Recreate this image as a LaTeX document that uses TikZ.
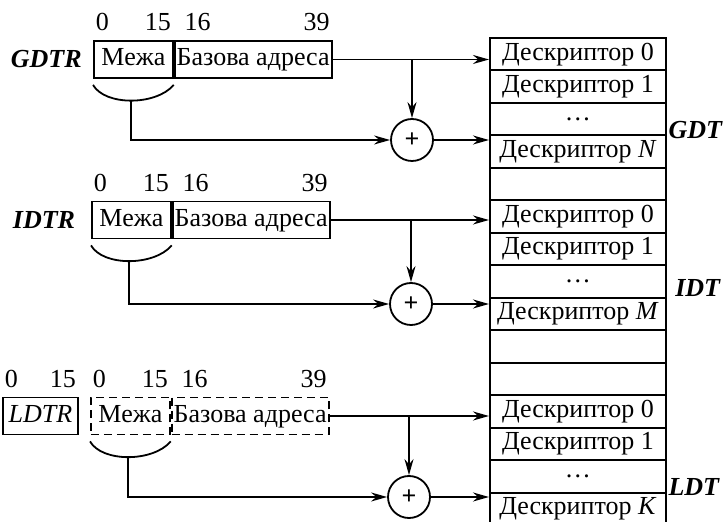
\documentclass[tikz,border=0pt]{standalone}
\usepackage{fontspec}
\setmainfont{Liberation Serif}
\usetikzlibrary{arrows.meta, positioning, calc}

\tikzset{
  reg/.style={draw, minimum height=18.5pt, inner xsep=1pt, inner ysep=0pt, text height=9pt, text depth=2.5pt},
  lim/.style={reg, minimum width=39.5pt},
  base/.style={reg, minimum width=78pt},
  dash reg/.style={dash pattern=on 4pt off 2.5pt},
  row/.style={draw, minimum width=88pt, minimum height=16.25pt, inner sep=0pt, anchor=north west},
  sum/.style={draw, circle, minimum size=21pt, inner sep=0pt, font=\bfseries},
  bit/.style={inner xsep=1pt, inner ysep=4pt},
  tname/.style={font=\bfseries\itshape, inner sep=0pt},
}

\begin{document}
\fontsize{13}{15}\selectfont
\begin{tikzpicture}[x=0.5pt, y=-0.5pt, >={Stealth[length=8pt,width=4.5pt]}, line width=0.9pt]
    \useasboundingbox (0,0) rectangle (727,522);

    % descriptor table
    \foreach \i/\t in {0/Дескриптор 0, 1/Дескриптор 1, 2/\dots, 3/Дескриптор \textit{N}, 4/{},
                       5/Дескриптор 0, 6/Дескриптор 1, 7/\dots, 8/Дескриптор \textit{M}, 9/{}, 10/{},
                       11/Дескриптор 0, 12/Дескриптор 1, 13/\dots, 14/Дескриптор \textit{K}} {
        \node[row] (r\i) at (489, {37+32.5*\i}) {\t};
    }
    \node[tname, anchor=east] at (723,130) {GDT};
    \node[tname, anchor=east] at (721,288) {IDT};
    \node[tname, anchor=east] at (720,487) {LDT};

    % GDTR
    \node[tname, anchor=west] (gdtr-name) at (10,59.5) {GDTR};
    \node[lim, anchor=west] (gdtr-lim) at (93,59.5) {Межа};
    \node[base, right=0pt of gdtr-lim] (gdtr-base) {Базова адреса};
    \node[bit, anchor=south west] at (gdtr-lim.north west) {0};
    \node[bit, anchor=south east] at (gdtr-lim.north east) {15};
    \node[bit, anchor=south west, xshift=4pt] at (gdtr-base.north west) {16};
    \node[bit, anchor=south east] at (gdtr-base.north east) {39};
    \node[sum] (gdtr-sum) at (412,140) {+};

    % IDTR
    \node[tname, anchor=west] (idtr-name) at (12,220) {IDTR};
    \node[lim, anchor=west] (idtr-lim) at (91,220) {Межа};
    \node[base, right=0pt of idtr-lim] (idtr-base) {Базова адреса};
    \node[bit, anchor=south west] at (idtr-lim.north west) {0};
    \node[bit, anchor=south east] at (idtr-lim.north east) {15};
    \node[bit, anchor=south west, xshift=4pt] at (idtr-base.north west) {16};
    \node[bit, anchor=south east] at (idtr-base.north east) {39};
    \node[sum] (idtr-sum) at (411,304) {+};

    % LDTR
    \node[reg, font=\itshape, minimum width=37.5pt, anchor=west] (ldtr-name) at (2,416) {LDTR};
    \node[bit, anchor=south west] at (ldtr-name.north west) {0};
    \node[bit, anchor=south east] at (ldtr-name.north east) {15};
    \node[lim, dash reg, anchor=west] (ldtr-lim) at (90,416) {Межа};
    \node[base, dash reg, right=0pt of ldtr-lim] (ldtr-base) {Базова адреса};
    \node[bit, anchor=south west] at (ldtr-lim.north west) {0};
    \node[bit, anchor=south east] at (ldtr-lim.north east) {15};
    \node[bit, anchor=south west, xshift=4pt] at (ldtr-base.north west) {16};
    \node[bit, anchor=south east] at (ldtr-base.north east) {39};
    \node[sum] (ldtr-sum) at (409,497) {+};

    % limit braces and address paths
    \foreach \g/\a/\b in {gdtr/0/3, idtr/5/8, ldtr/11/14} {
        \draw ([yshift=-3pt]\g-lim.south west) .. controls +(6pt,-10.5pt) and +(-9pt,-10.5pt)
            .. coordinate[pos=.5] (\g-br) ([yshift=-3pt]\g-lim.south east);
        \draw[->] (\g-base.east) -- (\g-base.east -| r\a.west);
        \draw[->] (\g-base.east -| \g-sum.north) -- (\g-sum.north);
        \draw[->] (\g-br) |- (\g-sum.west);
        \draw[->] (\g-sum.east) -- (\g-sum.east -| r\b.west);
    }
\end{tikzpicture}
\end{document}
